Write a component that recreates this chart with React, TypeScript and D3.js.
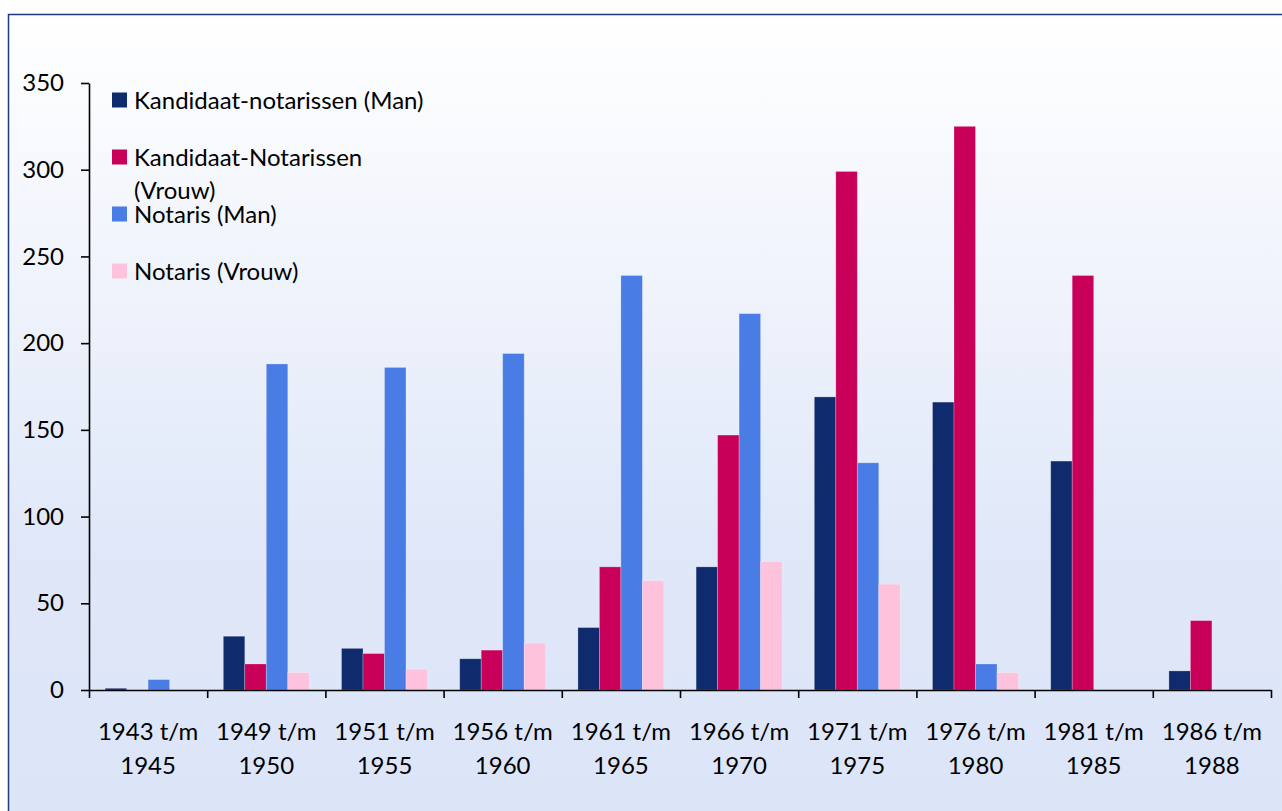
import React, { useEffect, useRef } from "react";
import * as d3 from "d3";

const periods: string[][] = [
  ["1943 t/m", "1945"],
  ["1949 t/m", "1950"],
  ["1951 t/m", "1955"],
  ["1956 t/m", "1960"],
  ["1961 t/m", "1965"],
  ["1966 t/m", "1970"],
  ["1971 t/m", "1975"],
  ["1976 t/m", "1980"],
  ["1981 t/m", "1985"],
  ["1986 t/m", "1988"],
];

const seriesNames: string[][] = [
  ["Kandidaat-notarissen (Man)"],
  ["Kandidaat-Notarissen", "(Vrouw)"],
  ["Notaris (Man)"],
  ["Notaris (Vrouw)"],
];

const kandidaatMan: number[] = [1, 31, 24, 18, 36, 71, 169, 166, 132, 11];
const kandidaatVrouw: number[] = [0, 15, 21, 23, 71, 147, 299, 325, 239, 40];
const notarisMan: number[] = [6, 188, 186, 194, 239, 217, 131, 15, 0, 0];
const notarisVrouw: number[] = [0, 10, 12, 27, 63, 74, 61, 10, 0, 0];

const yTicks: number[] = [0, 50, 100, 150, 200, 250, 300, 350];

const colors = ["#0f2b6e", "#c8005a", "#4a7ce6", "#ffc2dc"];
const font = "Lato, 'Open Sans', sans-serif";
const fs = 24;

function App() {
  const ref = useRef<any>();

  useEffect(() => {
    const svg = d3.select(ref.current);
    svg.selectAll("*").remove();

    const W = 1282;
    const H = 811;
    const left = 89;
    const right = 1271;
    const top = 83;
    const bottom = 690;

    // background
    const defs = svg.append("defs");
    const grad = defs
      .append("linearGradient")
      .attr("id", "bg")
      .attr("x1", "0%")
      .attr("x2", "0%")
      .attr("y1", "0%")
      .attr("y2", "100%");
    grad.append("stop").attr("offset", "0%").attr("stop-color", "#ffffff");
    grad.append("stop").attr("offset", "65%").attr("stop-color", "#dfe7f8");
    grad.append("stop").attr("offset", "100%").attr("stop-color", "#dce5f8");

    svg
      .append("rect")
      .attr("x", 8.5)
      .attr("y", 14.5)
      .attr("width", W + 20)
      .attr("height", H + 20)
      .attr("fill", "url(#bg)")
      .attr("stroke", "#1f3b7a")
      .attr("stroke-width", 1.5);

    const series = [kandidaatMan, kandidaatVrouw, notarisMan, notarisVrouw];

    const x0 = d3
      .scaleBand<number>()
      .domain(d3.range(periods.length))
      .range([left, right])
      .paddingInner(0)
      .paddingOuter(0);

    // Excel-style gap width 150%
    const barW = x0.bandwidth() / 5.5;
    const x1 = d3
      .scaleBand<number>()
      .domain(d3.range(series.length))
      .range([barW * 0.75, barW * 4.75]);

    const y = d3.scaleLinear().domain([0, 350]).range([bottom, top]);

    // bars
    series.forEach((vals, si) => {
      svg
        .append("g")
        .selectAll("rect")
        .data(vals)
        .enter()
        .append("rect")
        .attr("x", (d, i) => (x0(i) as number) + (x1(si) as number))
        .attr("y", (d) => y(d))
        .attr("width", x1.bandwidth())
        .attr("height", (d) => bottom - y(d))
        .attr("fill", colors[si])
        .attr("stroke", "#ffffff")
        .attr("stroke-opacity", (d) => (d > 0 ? 0.3 : 0))
        .attr("stroke-width", 0.8);
    });

    // y axis
    const yAxis = d3
      .axisLeft(y)
      .tickValues(yTicks)
      .tickSize(8)
      .tickSizeOuter(0)
      .tickPadding(17);
    const gy = svg.append("g").attr("transform", `translate(${left},0)`).call(yAxis);
    gy.select(".domain").attr("stroke", "#000").attr("stroke-width", 1.6);
    gy.selectAll(".tick line").attr("stroke", "#000").attr("stroke-width", 1.6);
    gy.selectAll(".tick text")
      .attr("font-family", font)
      .attr("font-size", fs)
      .attr("fill", "#000");

    // x axis
    const xLine = d3.scaleLinear().domain([0, periods.length]).range([left, right]);
    const xAxis = d3
      .axisBottom(xLine)
      .tickValues(d3.range(periods.length + 1))
      .tickSize(8)
      .tickSizeOuter(0)
      .tickFormat(() => "");
    const gx = svg.append("g").attr("transform", `translate(0,${bottom})`).call(xAxis);
    gx.select(".domain").attr("stroke", "#000").attr("stroke-width", 1.6);
    gx.selectAll(".tick line").attr("stroke", "#000").attr("stroke-width", 1.6);

    // x labels
    const labels = svg
      .append("g")
      .selectAll("text")
      .data(periods)
      .enter()
      .append("text")
      .attr("x", (d, i) => (x0(i) as number) + x0.bandwidth() / 2)
      .attr("y", 740)
      .attr("text-anchor", "middle")
      .attr("font-family", font)
      .attr("font-size", fs)
      .attr("fill", "#000");
    labels
      .selectAll("tspan")
      .data((d) => d)
      .enter()
      .append("tspan")
      .attr("x", function () {
        return d3.select((this as any).parentNode).attr("x");
      })
      .attr("dy", (d, i) => (i === 0 ? 0 : 34))
      .text((d) => d);

    // legend
    const legendY = [100, 157, 214, 271];
    const lg = svg.append("g");
    seriesNames.forEach((name, i) => {
      lg.append("rect")
        .attr("x", 112)
        .attr("y", legendY[i] - 7.5)
        .attr("width", 15)
        .attr("height", 15)
        .attr("fill", colors[i]);
      name.forEach((line, j) => {
        lg.append("text")
          .attr("x", 134)
          .attr("y", legendY[i] + 8.5 + j * 33)
          .attr("font-family", font)
          .attr("font-size", fs)
          .attr("fill", "#000")
          .text(line);
      });
    });
  }, []);

  return (
    <div style={{ position: "absolute", left: 0, top: 0 }}>
      <svg ref={ref} width={1282} height={811} style={{ display: "block" }}></svg>
    </div>
  );
}

export default App;
